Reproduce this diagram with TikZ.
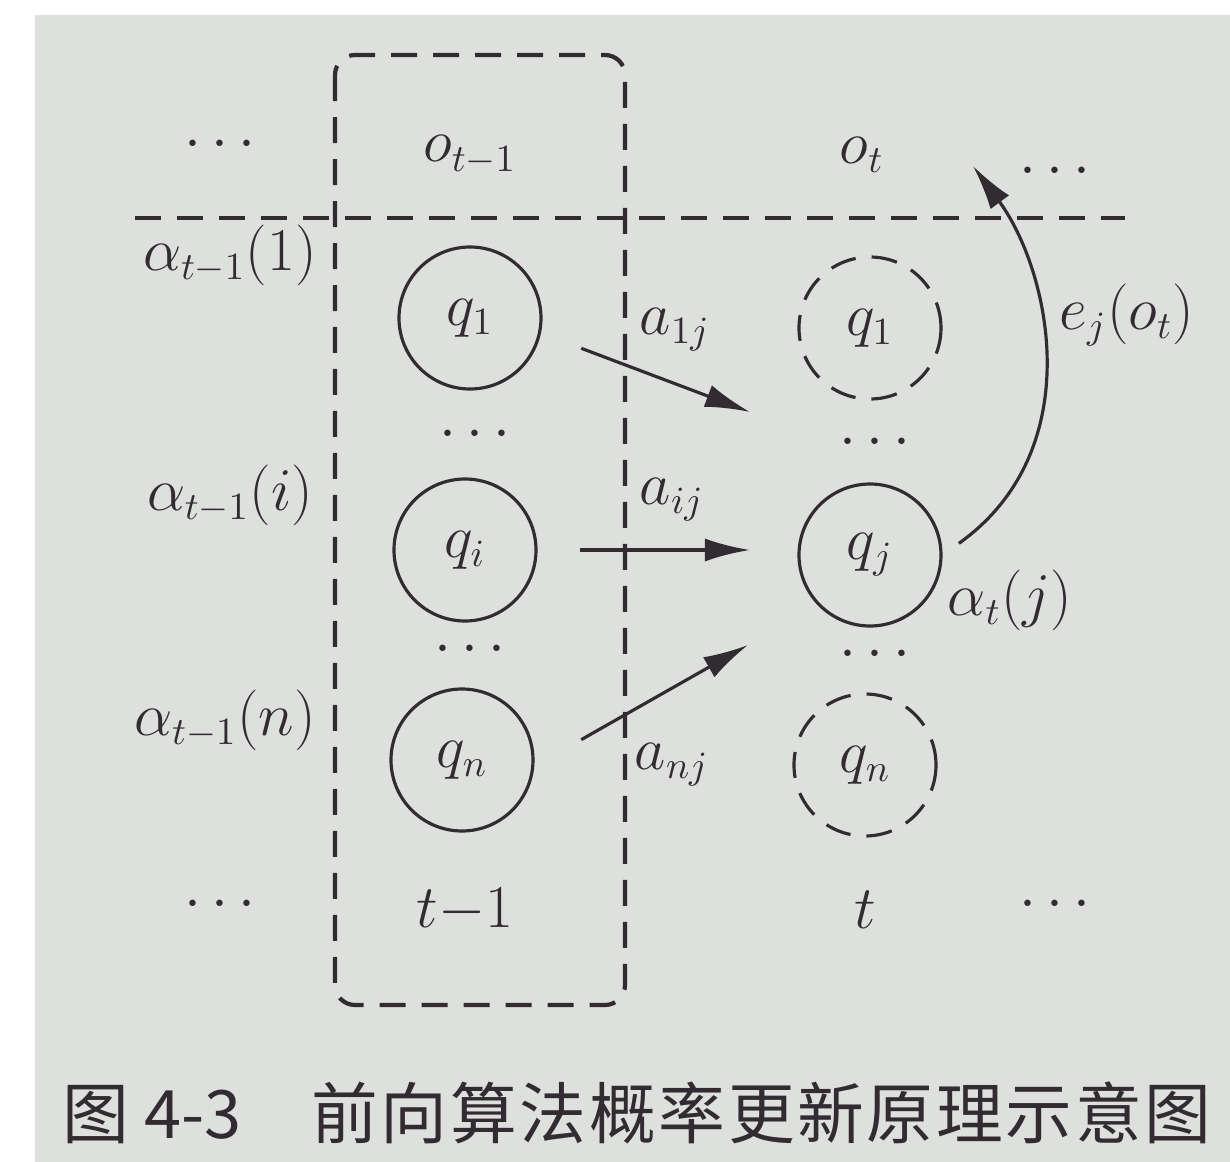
\documentclass[tikz,border=0pt]{standalone}
\usepackage{fontspec}
\newfontfamily\cjkfont{Noto Sans CJK SC}
\newfontfamily\cjkwide[LetterSpace=4]{Noto Sans CJK SC}
\usepackage{xcolor}
\usetikzlibrary{arrows.meta}
\definecolor{ink}{RGB}{50,44,50}
\definecolor{paper}{RGB}{222,224,221}

\begin{document}
\begin{tikzpicture}[
  x=0.1mm, y=-0.1mm,
  font=\fontsize{16}{19}\selectfont,
  every node/.style={text=ink},
  st/.style={circle, draw=ink, line width=0.9pt, minimum size=14.2mm, inner sep=0pt},
  stdash/.style={st, dash pattern=on 2.6mm off 1.6mm},
  sep/.style={draw=ink, line width=1.2pt, dash pattern=on 2.6mm off 1.6mm},
  arr/.style={-{Latex[length=4.5mm, width=2.3mm]}, draw=ink, line width=0.9pt}
]
\useasboundingbox (0,0) rectangle (1230,1162);
\clip (0,0) rectangle (1230,1162);
\fill[white] (0,0) rectangle (1230,1162);
\fill[paper] (35,15) rectangle (1230,1162);

% column t-1 and observation row
\draw[sep, rounded corners=2mm] (335,55) rectangle (625,1005);
\draw[sep] (135,218) -- (1125,218);

\node (dotsTL) at (220,145) {$\cdots$};
\node (otm) at (470,155) {$o_{t-1}$};
\node (ot) at (862,155) {$o_t$};
\node (dotsTR) at (1055,172) {$\cdots$};

\node (al1) at (230,255) {$\alpha_{t-1}(1)$};
\node (ali) at (230,495) {$\alpha_{t-1}(i)$};
\node (aln) at (225,720) {$\alpha_{t-1}(n)$};

% states at t-1
\node[st] (q1l) at (470,318) {$q_1$};
\node (vdl1) at (475,435) {$\cdots$};
\node[st] (qil) at (465,550) {$q_i$};
\node (vdl2) at (470,650) {$\cdots$};
\node[st] (qnl) at (462,760) {$q_n$};

% states at t
\node[stdash] (q1r) at (870,328) {$q_1$};
\node (vdr1) at (875,443) {$\cdots$};
\node[st] (qjr) at (870,555) {$q_j$};
\node (vdr2) at (875,655) {$\cdots$};
\node[stdash] (qnr) at (865,765) {$q_n$};

\coordinate (in1) at (750,412);
\coordinate (in2) at (750,550);
\coordinate (in3) at (748,645);
\coordinate (eo) at (973,166);

\draw[arr, shorten <=4.3mm] (q1l.-12) -- (in1);
\draw[arr, shorten <=4.2mm] (qil.east) -- (in2);
\draw[arr, shorten <=5.4mm] (qnl.-5) -- (in3);
\draw[arr, shorten <=2mm] (qjr.east) .. controls (1090,450) and (1050,270) .. (eo);

\node (l1j) at (675,330) {$a_{1j}$};
\node (lij) at (672,500) {$a_{ij}$};
\node (lnj) at (672,765) {$a_{nj}$};
\node (lej) at (1127,315) {$e_j(o_t)$};
\node (latj) at (1010,600) {$\alpha_t(j)$};

\node (dotsBL) at (220,905) {$\cdots$};
\node (ltm) at (465,910) {$t{-}1$};
\node (lt) at (865,910) {$t$};
\node (dotsBR) at (1055,905) {$\cdots$};

% caption
\node[anchor=west, font=\cjkfont\fontsize{19}{23}\selectfont] (cap) at (50,1113)
  {图 4-3\hspace{7mm}{\cjkwide 前向算法概率更新原理示意图}};
\end{tikzpicture}
\end{document}
